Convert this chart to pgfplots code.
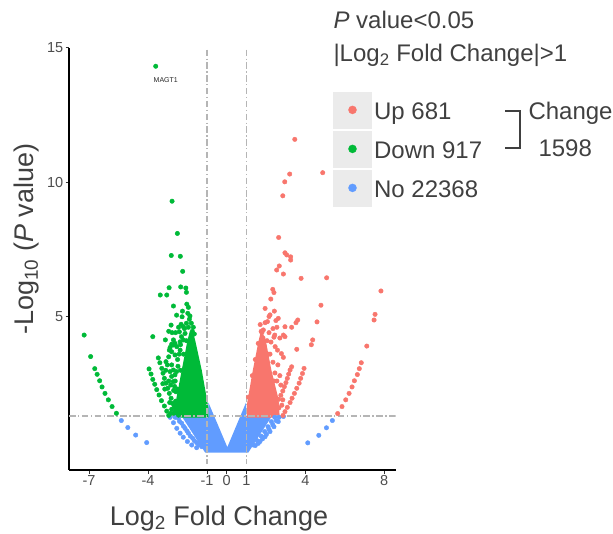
\documentclass[border=0pt]{standalone}
\usepackage{fontspec}
\setmainfont{Liberation Sans}
\usepackage{pgfplots}
\pgfplotsset{compat=1.18}
\definecolor{upred}{HTML}{F8766D}
\definecolor{downgreen}{HTML}{00BA38}
\definecolor{noblue}{HTML}{619CFF}
\definecolor{keygray}{HTML}{EBEBEB}
\definecolor{txt}{HTML}{4D4D4D}
\definecolor{ttl}{HTML}{404040}
\definecolor{refline}{HTML}{B5B5B5}
\begin{document}
\begin{tikzpicture}[x=1pt,y=1pt]
\useasboundingbox (0,0) rectangle (613,533);
\begin{axis}[
  at={(69pt,63pt)}, anchor=south west,
  scale only axis, width=326.7pt, height=422.3pt,
  xmin=-8.02, xmax=8.59, ymin=-0.71, ymax=15,
  axis x line*=bottom, axis y line*=left,
  axis line style={line width=1.1pt, black, -},
  xtick={-7,-4,-1,0,1,4,8}, xticklabels={-7,-4,-1,0,1,4,8},
  ytick={5,10,15}, yticklabels={5,10,15},
  tick align=outside, major tick length=3.5pt,
  tick style={line width=1pt, black!80},
  xticklabel style={font=\fontsize{14.5}{17}\selectfont, text=txt, inner sep=2pt},
  yticklabel style={font=\fontsize{14.5}{17}\selectfont, text=txt, inner sep=2pt},
  /pgf/number format/assume math mode=true,
  legend style={at={(0.809,0.8958)}, anchor=north west, draw=none, fill=none,
    inner sep=0pt, outer sep=0pt, row sep=2.6pt, column sep=3pt,
    font=\fontsize{24}{28}\selectfont, text=ttl,
    nodes={inner sep=0pt, outer sep=0pt, text height=24pt, text depth=4pt}},
  legend cell align=left,
]
% dense cores
\addplot[forget plot, fill=noblue, draw=none] coordinates {
(-2.30,1.30) (-0.93,1.30) (-0.93,1.80) (0.03,0.14) (0.98,1.80) (0.98,1.30) (2.30,1.30) (1.10,-0.06) (-1.10,-0.06)} --cycle;
\addplot[forget plot, fill=downgreen, draw=none] coordinates {
(-0.93,1.24) (-0.93,1.60) (-1.27,3.00) (-1.60,4.10) (-1.72,4.45) (-1.88,4.45) (-2.00,4.10) (-2.29,3.00) (-2.55,2.00) (-2.72,1.24)} --cycle;
\addplot[forget plot, fill=upred, draw=none] coordinates {
(1.02,1.24) (1.02,1.70) (1.30,2.90) (1.62,4.10) (1.72,4.40) (1.95,4.25) (2.27,3.00) (2.61,2.00) (2.70,1.24)} --cycle;
% blue points
\addplot[forget plot, noblue, only marks, mark=*, mark size=2.25pt] coordinates {
(-5.36,1.13) (-5.03,0.87) (-4.63,0.59) (-4.07,0.31)
(5.37,1.13) (5.07,0.86) (4.68,0.58) (4.12,0.30)
(-2.88,1.25) (-2.71,1.05) (-2.54,0.84) (-2.37,0.66) (-2.21,0.51) (-2.00,0.35) (-1.78,0.22) (-1.53,0.12)
(-2.46,1.22) (-2.29,1.03) (-2.12,0.84) (-1.95,0.66) (-1.73,0.47) (-1.53,0.31) (-1.27,0.16)
(2.88,1.28) (2.62,1.09) (2.40,0.90) (2.20,0.72) (1.95,0.53) (1.69,0.35) (1.45,0.20)
(2.44,1.25) (2.27,1.09) (2.10,0.90) (1.93,0.72) (1.75,0.55) (1.55,0.38) (1.35,0.22)
(-2.62,1.25) (-2.40,1.10) (-2.20,0.92) (-2.02,0.74) (-1.85,0.55) (-1.65,0.38) (-1.42,0.22)
(2.66,1.25) (2.52,1.12) (2.34,0.98) (2.15,0.80) (2.02,0.62) (1.82,0.45) (1.60,0.28)
};
% green points
\addplot[forget plot, downgreen, only marks, mark=*, mark size=2.25pt] coordinates {
(-3.61,14.31)
(-2.78,9.29) (-2.51,8.09) (-2.82,7.27) (-2.36,7.24) (-2.24,6.68) (-2.93,6.07) (-2.34,6.10) (-2.08,6.06) (-2.05,5.90) (-3.38,5.80) (-3.05,5.80)
(-2.71,5.39) (-2.03,5.46) (-1.95,5.34) (-1.98,5.12) (-1.87,5.02) (-1.90,4.90) (-2.27,4.99) (-2.32,4.71) (-2.21,4.62) (-2.41,4.43) (-2.83,4.68)
(-3.76,4.25) (-3.12,4.13) (-2.71,4.13) (-2.80,3.97) (-2.63,4.00) (-2.92,3.75) (-2.37,4.06) (-2.54,3.88) (-2.71,3.94) (-2.88,3.85) (-2.12,4.37) (-2.21,4.13) (-2.37,3.75) (-2.80,3.69) (-2.63,3.57)
(-3.09,3.32) (-3.02,3.20) (-2.80,3.20) (-2.71,3.01) (-2.88,2.95) (-2.63,2.83) (-2.80,2.77) (-2.72,2.58) (-2.65,2.40) (-2.58,2.20)
(-7.25,4.31) (-6.92,3.51) (-6.71,3.06) (-6.59,2.85) (-6.46,2.61) (-6.34,2.38) (-6.19,2.14) (-6.02,1.90) (-5.83,1.65) (-5.61,1.40)
(-3.95,3.05) (-3.85,2.86) (-3.76,2.66) (-3.66,2.48) (-3.56,2.28) (-3.44,2.08) (-3.32,1.87) (-3.17,1.67) (-3.05,1.48) (-2.95,1.32)
(-3.48,3.46) (-3.40,3.28) (-3.30,3.07) (-3.24,2.89) (-3.17,2.70) (-3.09,2.52) (-3.00,2.33) (-2.92,2.14) (-2.83,1.96) (-2.75,1.77) (-2.64,1.62) (-2.54,1.46) (-2.45,1.33)
(-2.05,4.10) (-2.20,3.60) (-2.35,3.00) (-2.50,2.30) (-2.55,1.70) (-2.48,1.40) (-1.75,4.45) (-1.65,4.35)
(-2.60,1.50) (-2.68,1.70) (-2.60,1.85) (-2.70,2.25) (-2.62,2.60) (-2.55,2.95) (-2.48,3.15) (-2.50,3.40) (-2.42,3.60) (-2.35,3.95) (-2.30,4.25) (-2.15,4.55) (-2.05,4.75) (-1.95,4.60) (-2.45,4.60) (-2.60,4.40) (-2.78,4.40) (-2.95,4.45) (-2.95,3.50) (-3.10,3.00) (-3.15,2.30) (-3.25,2.50) (-2.95,2.60) (-2.85,2.45) (-2.90,1.80) (-2.80,1.55) (-2.85,1.40) (-2.70,1.40)
(-1.80,4.75) (-1.70,4.60) (-2.25,5.20) (-2.55,5.05)
};
% red points
\addplot[forget plot, upred, only marks, mark=*, mark size=2.25pt] coordinates {
(3.46,11.59) (3.20,10.30) (4.88,10.35) (2.95,10.01) (2.85,9.49) (2.64,7.94)
(2.96,7.37) (3.05,7.29) (3.25,7.22) (3.25,7.10) (2.67,6.88) (2.54,6.73) (2.88,6.58) (3.78,6.42) (5.08,6.44)
(2.34,6.01) (2.40,5.89) (2.24,5.65) (4.79,5.42) (2.42,5.20) (2.20,5.06) (2.07,4.81) (1.95,4.77) (2.62,4.93) (3.61,4.87) (3.52,4.77) (4.59,4.80) (2.96,4.62) (3.30,4.60) (1.86,4.50) (1.79,4.40) (2.88,4.31) (2.96,4.25) (2.40,4.23) (2.44,4.31) (4.37,4.13) (4.30,3.95) (2.46,3.88) (3.56,3.78) (2.88,3.48) (2.78,3.62)
(7.84,5.95) (7.54,5.08) (7.49,4.87) (7.12,3.90)
(3.30,3.13) (3.22,3.01) (3.15,2.86) (3.08,2.70) (3.01,2.54) (2.93,2.39) (2.85,2.23) (2.75,2.07) (2.64,1.92) (2.54,1.77) (2.46,1.62)
(3.93,3.07) (3.85,2.88) (3.76,2.70) (3.68,2.52) (3.56,2.33) (3.44,2.14) (3.32,1.96) (3.22,1.80) (3.08,1.62) (2.96,1.46) (2.86,1.32)
(6.84,3.28) (6.74,3.06) (6.64,2.84) (6.49,2.61) (6.37,2.38) (6.22,2.14) (6.05,1.90) (5.86,1.65) (5.64,1.39)
(1.10,2.00) (1.30,2.80) (1.45,3.40) (1.60,4.00) (1.75,4.45) (2.10,3.60) (2.40,2.60) (2.65,1.60)
(2.45,2.90) (2.55,2.60) (2.35,3.30) (2.20,3.60) (2.05,4.10) (2.15,4.40) (2.25,4.05) (2.60,3.20) (2.70,2.80) (2.75,2.45) (2.80,1.70) (2.85,1.90) (2.58,3.75) (2.35,4.55) (2.15,5.00) (2.55,4.60) (1.95,5.30) (1.70,4.70) (2.70,4.20) (2.50,4.85)
};
% reference lines
\addplot[forget plot, refline, line width=1.3pt, dash pattern=on 6.5pt off 2.5pt on 1.3pt off 2.5pt] coordinates {(-1,14.93) (-1,-0.48)};
\addplot[forget plot, refline, line width=1.3pt, dash pattern=on 6.5pt off 2.5pt on 1.3pt off 2.5pt] coordinates {(1,14.93) (1,-0.48)};
\addplot[forget plot, refline, line width=1.3pt, dash pattern=on 6.5pt off 2.5pt on 1.3pt off 2.5pt] coordinates {(-8.02,1.301) (8.59,1.301)};
\node[font=\fontsize{7}{8}\selectfont, text=black!85, inner sep=0pt] at (axis cs:-3.1,13.8) {MAGT1};
% legend
\addlegendimage{legend image code/.code={\fill[keygray] (0pt,-18pt) rectangle (37.4pt,18pt); \fill[upred] (19pt,0pt) circle (4pt);}}
\addlegendentry{Up 681}
\addlegendimage{legend image code/.code={\fill[keygray] (0pt,-18pt) rectangle (37.4pt,18pt); \fill[downgreen] (19pt,0pt) circle (4pt);}}
\addlegendentry{Down 917}
\addlegendimage{legend image code/.code={\fill[keygray] (0pt,-18pt) rectangle (37.4pt,18pt); \fill[noblue] (19pt,0pt) circle (4pt);}}
\addlegendentry{No 22368}
\end{axis}
\node[anchor=base west, inner sep=0pt, font=\fontsize{24}{28}\selectfont, text=ttl] at (333.3,504.7) {\textit{P} value<0.05};
\node[anchor=base west, inner sep=0pt, font=\fontsize{24}{28}\selectfont, text=ttl] at (333.3,471.3) {|Log\textsubscript{2} Fold Change|>1};
\draw[line width=2pt, ttl] (505,422) -- (520,422) -- (520,385.3) -- (505,385.3);
\node[anchor=base west, inner sep=0pt, font=\fontsize{24}{28}\selectfont, text=ttl] at (528.3,413) {Change};
\node[anchor=base west, inner sep=0pt, font=\fontsize{24}{28}\selectfont, text=ttl] at (538.3,376.3) {1598};
\node[anchor=base, inner sep=0pt, font=\fontsize{27}{32}\selectfont, text=ttl] at (219,8) {Log\textsubscript{2} Fold Change};
\node[anchor=base, rotate=90, inner sep=0pt, font=\fontsize{27}{32}\selectfont, text=ttl] at (33.3,293.6) {-Log\textsubscript{10} (\textit{P} value)};
\end{tikzpicture}
\end{document}
